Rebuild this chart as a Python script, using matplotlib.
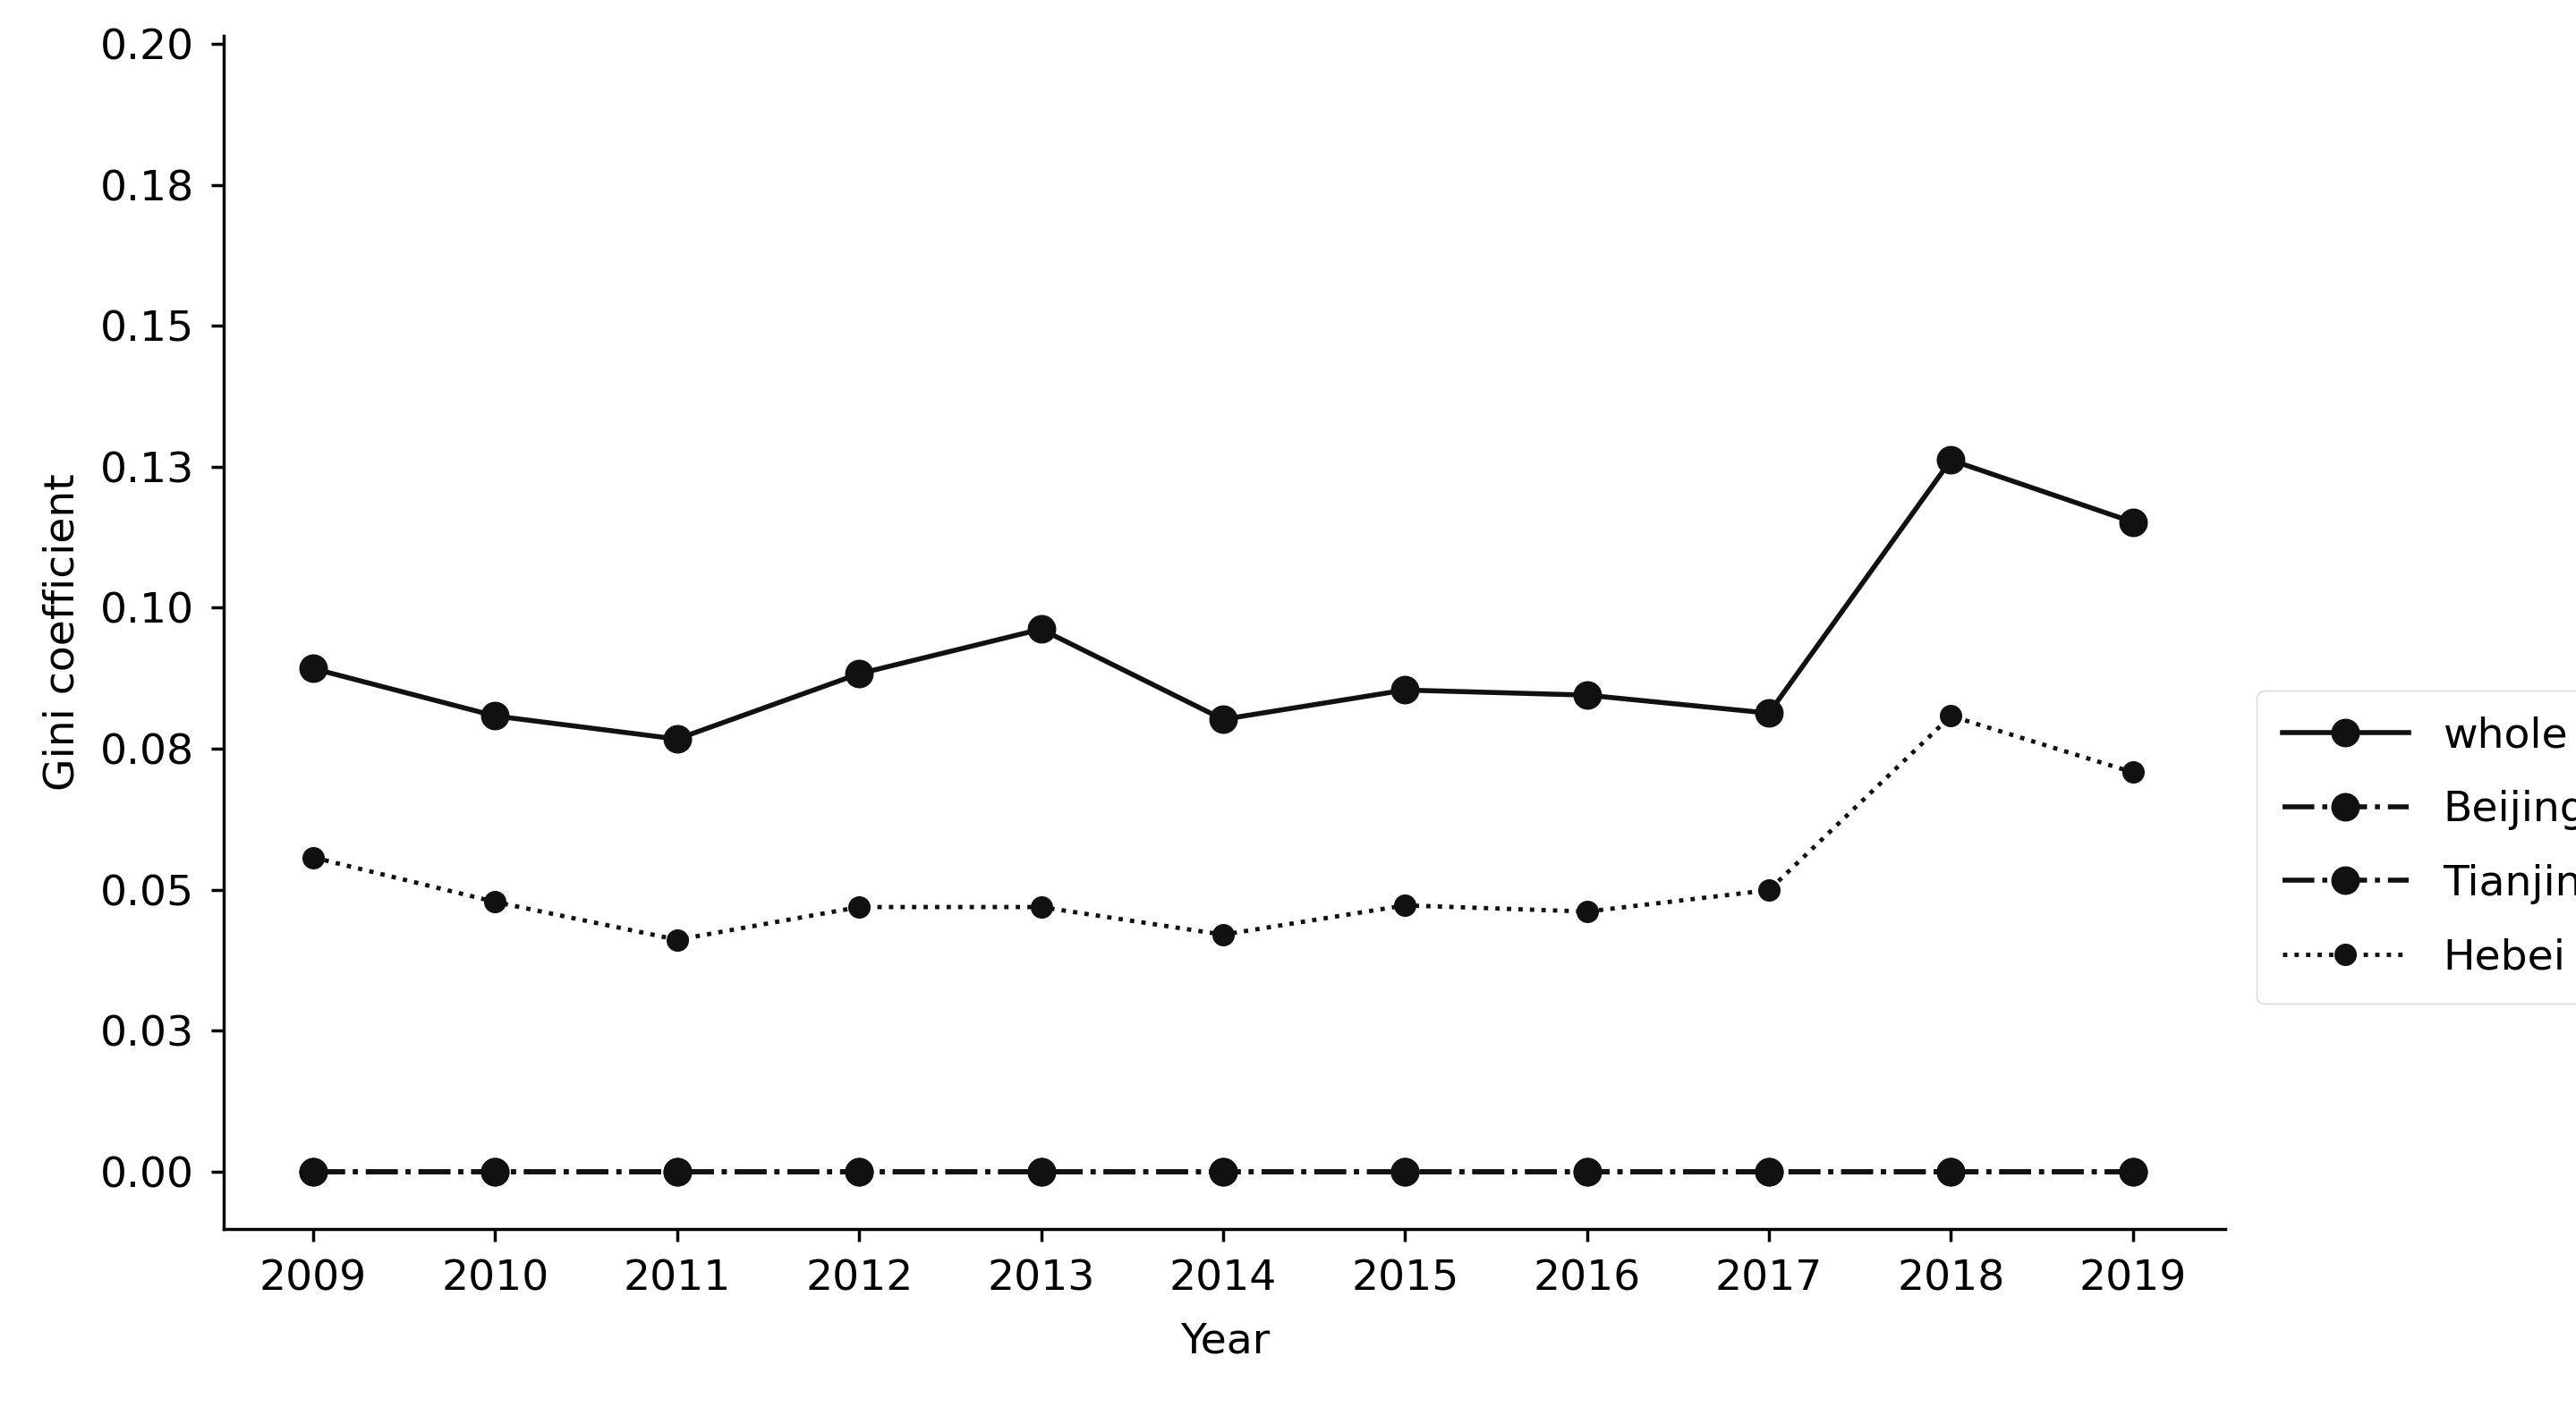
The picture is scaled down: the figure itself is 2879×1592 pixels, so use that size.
import matplotlib
matplotlib.use("Agg")
import matplotlib.pyplot as plt

years = [2009, 2010, 2011, 2012, 2013, 2014, 2015, 2016, 2017, 2018, 2019]
whole = [0.0892, 0.0808, 0.0767, 0.0883, 0.0962, 0.0802, 0.0854, 0.0845, 0.0813, 0.1262, 0.1152]
beijing = [0.0] * 11
tianjin = [0.0] * 11
hebei = [0.0557, 0.0478, 0.0411, 0.0469, 0.0469, 0.0420, 0.0472, 0.0461, 0.0499, 0.0808, 0.0708]
ytick_vals = [0, 0.025, 0.05, 0.075, 0.1, 0.125, 0.15, 0.175, 0.2]
ytick_labels = ["0.00", "0.03", "0.05", "0.08", "0.10", "0.13", "0.15", "0.18", "0.20"]

fig = plt.figure(figsize=(28.79, 15.92), dpi=100)
ax = fig.add_axes([0.087, 0.137, 0.777, 0.838])
c = "#111111"
ax.plot(years, whole, "-", color=c, lw=4, marker="o", ms=22, label="whole")
ax.plot(years, beijing, "-.", color=c, lw=4, marker="o", ms=22, label="Beijing")
ax.plot(years, tianjin, "-.", color=c, lw=4, marker="o", ms=22, label="Tianjin")
ax.plot(years, hebei, ":", color=c, lw=3.5, marker="o", ms=17, label="Hebei")
ax.set_xlim(2008.51, 2019.51)
ax.set_ylim(-0.0102, 0.2015)
ax.set_xticks(years)
ax.set_xticklabels([str(y) for y in years])
ax.set_yticks(ytick_vals)
ax.set_yticklabels(ytick_labels)
ax.tick_params(labelsize=34, width=2.5, length=10, pad=14)
for s in ["top", "right"]:
    ax.spines[s].set_visible(False)
for s in ["left", "bottom"]:
    ax.spines[s].set_linewidth(2.5)
ax.set_xlabel("Year", fontsize=34, labelpad=18)
ax.set_ylabel("Gini coefficient", fontsize=34, labelpad=14)
ax.legend(loc="center left", bbox_to_anchor=(1.005, 0.32), fontsize=34, frameon=True,
          handlelength=3.0, labelspacing=0.8, borderpad=0.6)
fig.savefig("out.png", dpi=100)
